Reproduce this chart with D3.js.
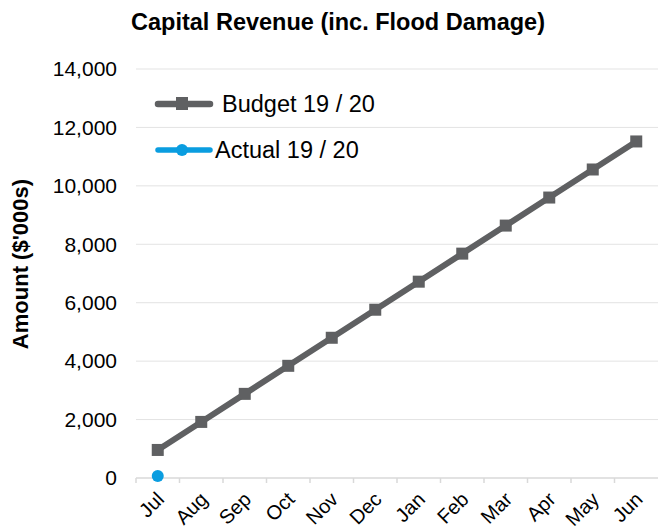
<!DOCTYPE html>
<html><head><meta charset="utf-8">
<script src="https://cdn.jsdelivr.net/npm/d3@7"></script>
<style>body{margin:0;background:#fff}svg{display:block}text{font-family:"Liberation Sans",Arial,sans-serif}</style>
</head><body><svg id="c" width="658" height="530"></svg>
<script>
const months = ["Jul","Aug","Sep","Oct","Nov","Dec","Jan","Feb","Mar","Apr","May","Jun"];
const budget = [960,1920,2880,3840,4800,5760,6720,7680,8640,9600,10560,11520];
const actual = [0,null,null,null,null,null,null,null,null,null,null,null];
const yTicks = [0,2000,4000,6000,8000,10000,12000,14000];
const seriesNames = ["Budget 19 / 20","Actual 19 / 20"];

const svg = d3.select("#c");
const L=136, R=658, T=69, B=478;
const x = d3.scaleBand().domain(months).range([L,R]);
const y = d3.scaleLinear().domain([0,14000]).range([B,T]);
const fmt = d3.format(",");

// gridlines
svg.append("g").selectAll("line").data(yTicks.filter(d=>d>0)).join("line")
  .attr("x1",L).attr("x2",R).attr("y1",d=>y(d)).attr("y2",d=>y(d))
  .attr("stroke","#e3e3e3").attr("stroke-width",1);

// y axis labels
const ya = svg.append("g").attr("transform",`translate(${L},0)`)
  .call(d3.axisLeft(y).tickValues(yTicks).tickFormat(fmt).tickSize(0).tickPadding(19));
ya.select(".domain").remove();
ya.selectAll("text").attr("font-size",21).attr("fill","#000").attr("font-family","Liberation Sans, Arial, sans-serif");

// x axis
svg.append("line").attr("x1",L).attr("x2",R).attr("y1",B).attr("y2",B).attr("stroke","#d9d9d9").attr("stroke-width",1.5);
svg.append("g").selectAll("line").data(months).join("line")
  .attr("x1",d=>x(d)).attr("x2",d=>x(d)).attr("y1",B).attr("y2",B+5)
  .attr("stroke","#d9d9d9").attr("stroke-width",1.5);
svg.append("g").selectAll("text").data(months).join("text")
  .attr("transform",d=>`translate(${x(d)+x.bandwidth()/2-3},${B+12}) rotate(-45)`)
  .attr("text-anchor","end").attr("dy","0.75em")
  .attr("font-size",20).attr("fill","#000").text(d=>d);

// budget line
const cx = d=>x(d)+x.bandwidth()/2;
const line = d3.line().defined(d=>d[1]!=null).x(d=>cx(d[0])).y(d=>y(d[1]));
const bData = months.map((m,i)=>[m,budget[i]]);
svg.append("path").datum(bData).attr("d",line).attr("fill","none")
  .attr("stroke","#5f6062").attr("stroke-width",6).attr("stroke-linejoin","round");
svg.append("g").selectAll("rect").data(bData).join("rect")
  .attr("x",d=>cx(d[0])-6).attr("y",d=>y(d[1])-6).attr("width",12).attr("height",12)
  .attr("fill","#5f6062");

// actual
const aData = months.map((m,i)=>[m,actual[i]]).filter(d=>d[1]!=null);
svg.append("path").datum(aData).attr("d",line).attr("fill","none")
  .attr("stroke","#0a9de0").attr("stroke-width",5);
svg.append("g").selectAll("circle").data(aData).join("circle")
  .attr("cx",d=>cx(d[0])).attr("cy",d=>y(d[1])-2).attr("r",6).attr("fill","#0a9de0");

// legend
const lg = svg.append("g");
lg.append("line").attr("x1",158).attr("x2",210).attr("y1",104).attr("y2",104)
  .attr("stroke","#5f6062").attr("stroke-width",6.5).attr("stroke-linecap","round");
lg.append("rect").attr("x",176).attr("y",97).attr("width",12).attr("height",13).attr("fill","#5f6062");
lg.append("text").attr("x",222).attr("y",104).attr("dy","0.35em").attr("font-size",23.5).text(seriesNames[0]);
lg.append("line").attr("x1",158).attr("x2",210).attr("y1",150).attr("y2",150)
  .attr("stroke","#0a9de0").attr("stroke-width",5.5).attr("stroke-linecap","round");
lg.append("circle").attr("cx",182).attr("cy",150).attr("r",6).attr("fill","#0a9de0");
lg.append("text").attr("x",215).attr("y",150).attr("dy","0.35em").attr("font-size",23.5).text(seriesNames[1]);

// title
svg.append("text").attr("x",338).attr("y",30).attr("text-anchor","middle")
  .attr("font-size",23.5).attr("font-weight","bold").text("Capital Revenue (inc. Flood Damage)");
svg.append("text").attr("transform","translate(28,264) rotate(-90)").attr("text-anchor","middle")
  .attr("font-size",22).attr("font-weight","bold").text("Amount ($'000s)");
</script></body></html>
